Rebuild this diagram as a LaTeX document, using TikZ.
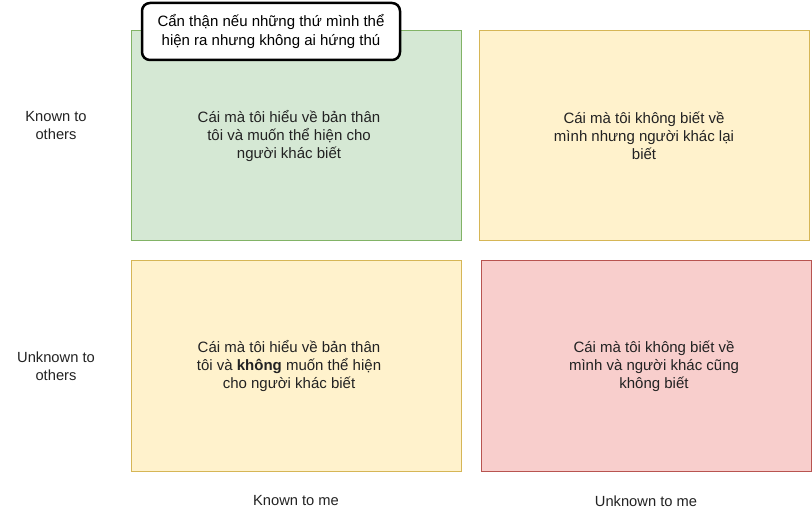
\documentclass[tikz,border=0pt]{standalone}
\usepackage{fontspec}
\setmainfont{Liberation Sans}
\definecolor{gfill}{HTML}{D5E8D4}\definecolor{gline}{HTML}{82B366}
\definecolor{yfill}{HTML}{FFF2CC}\definecolor{yline}{HTML}{D6B656}
\definecolor{rfill}{HTML}{F8CECC}\definecolor{rline}{HTML}{B85450}
\definecolor{txt}{HTML}{222222}
\begin{document}
\begin{tikzpicture}[x=1pt,y=-1pt,
  quad/.style={draw,line width=1pt,minimum width=330pt,minimum height=210pt,inner sep=0pt},
  qtext/.style={align=center,font=\fontsize{15}{18}\selectfont,text=txt,inner sep=0pt},
  lbl/.style={align=center,font=\fontsize{14.7}{18}\selectfont,text=txt},
  callout/.style={draw=black,line width=2.5pt,fill=white,rounded corners=8pt,minimum width=258pt,minimum height=57pt,align=center,font=\fontsize{15}{19}\selectfont,inner sep=0pt}]
\useasboundingbox (0,0) rectangle (812,513);
\node[quad,fill=gfill,draw=gline] (q1) at (296,136) {};
\node[quad,fill=yfill,draw=yline] (q2) at (644,136) {};
\node[quad,fill=yfill,draw=yline] (q3) at (296,366) {};
\node[quad,fill=rfill,draw=rline] (q4) at (646,366) {};
\node[qtext] (t1) at ([xshift=-7pt]q1.center) {Cái mà tôi hiểu về bản thân\\tôi và muốn thể hiện cho\\người khác biết};
\node[qtext] (t2) at (q2.center) {Cái mà tôi không biết về\\mình nhưng người khác lại\\biết};
\node[qtext] (t3) at ([xshift=-7pt]q3.center) {Cái mà tôi hiểu về bản thân\\tôi và \textbf{không} muốn thể hiện\\cho người khác biết};
\node[qtext] (t4) at ([xshift=8pt]q4.center) {Cái mà tôi không biết về\\mình và người khác cũng\\không biết};
\node[callout] (c) at (271,31.5) {Cẩn thận nếu những thứ mình thể\\hiện ra nhưng không ai hứng thú};
\node[lbl] (l1) at (56,126) {Known to\\others};
\node[lbl] (l2) at (56,366) {Unknown to\\others};
\node[lbl] (l3) at (296,501) {Known to me};
\node[lbl] (l4) at (646,501) {Unknown to me};
\end{tikzpicture}
\end{document}
